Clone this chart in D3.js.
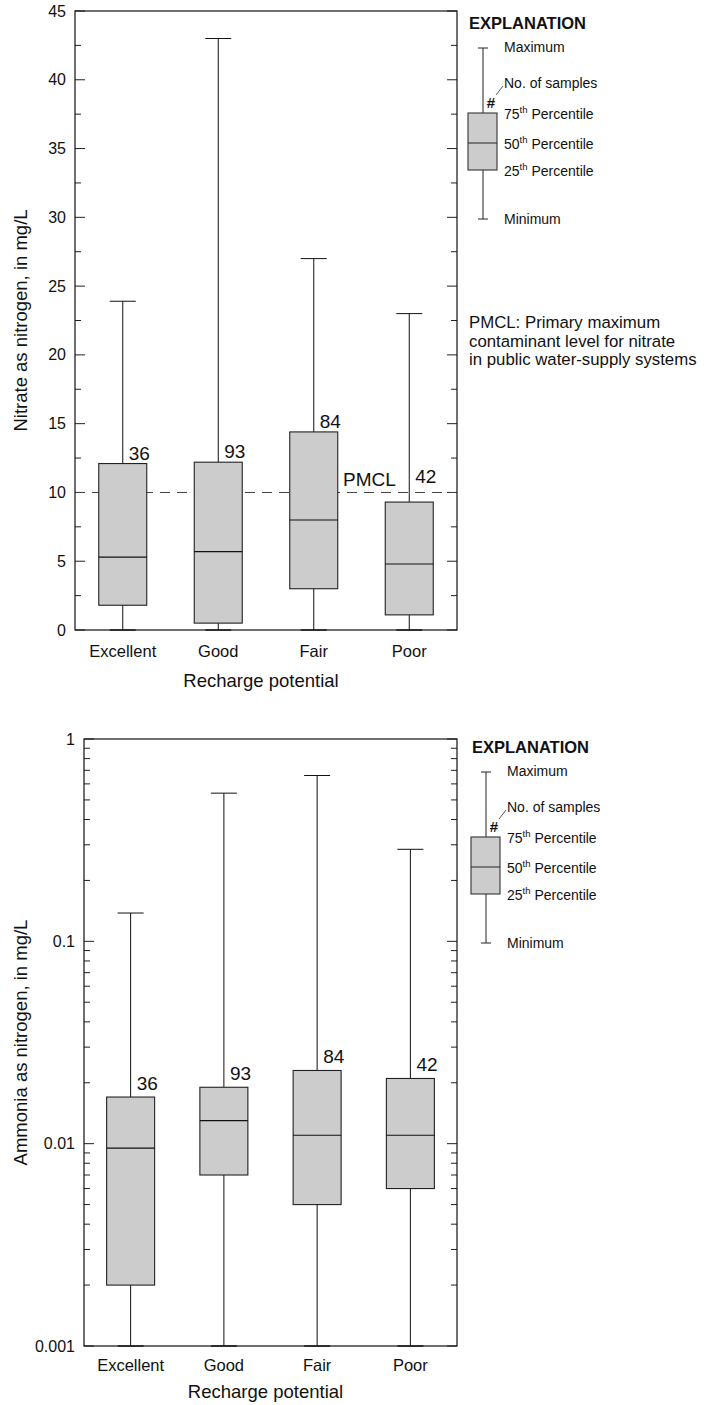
<!DOCTYPE html>
<html>
<head>
<meta charset="utf-8">
<script src="https://cdn.jsdelivr.net/npm/d3@7"></script>
<style>
  body { margin: 0; background: #fff; }
  svg text { font-family: Arial, "Liberation Sans", sans-serif; fill: #111; }
</style>
</head>
<body>
<svg id="chart" width="715" height="1405"></svg>
<script>
// ---- data ----
const categories = ["Excellent", "Good", "Fair", "Poor"];
const sampleCounts = [36, 93, 84, 42];

// Nitrate as nitrogen, mg/L
const nitrateMin    = [0, 0, 0, 0];
const nitrateQ1     = [1.8, 0.5, 3.0, 1.1];
const nitrateMedian = [5.3, 5.7, 8.0, 4.8];
const nitrateQ3     = [12.1, 12.2, 14.4, 9.3];
const nitrateMax    = [23.9, 43, 27, 23];
const nitrateMajorTicks = [0, 5, 10, 15, 20, 25, 30, 35, 40, 45];
const nitrateMinorTicks = [2.5, 7.5, 12.5, 17.5, 22.5, 27.5, 32.5, 37.5, 42.5];
const pmclValue = 10;

// Ammonia as nitrogen, mg/L
const ammoniaMin    = [0.001, 0.001, 0.001, 0.001];
const ammoniaQ1     = [0.002, 0.007, 0.005, 0.006];
const ammoniaMedian = [0.0095, 0.013, 0.011, 0.011];
const ammoniaQ3     = [0.017, 0.019, 0.023, 0.021];
const ammoniaMax    = [0.138, 0.54, 0.66, 0.285];
const ammoniaMajorTicks = [0.001, 0.01, 0.1, 1];
const ammoniaTickLabels = ["0.001", "0.01", "0.1", "1"];

const legendLabels = ["Maximum", "No. of samples", "75", "50", "25", "Minimum"];
const pmclNote = ["PMCL: Primary maximum", "contaminant level for nitrate", "in public water-supply systems"];

// ---- drawing ----
const svg = d3.select("#chart");
const BOX_FILL = "#cccccc";

function rows(mins, q1, med, q3, max) {
  return categories.map((c, i) => ({
    cat: c, n: sampleCounts[i], min: mins[i], q1: q1[i], med: med[i], q3: q3[i], max: max[i]
  }));
}

function drawPanel(cfg) {
  const g = svg.append("g");
  const x = d3.scaleBand().domain(categories).range([cfg.left, cfg.right]);
  const y = cfg.y;
  const top = y.range()[1], bottom = y.range()[0];

  // tick marks on both vertical edges, pointing inward
  const ticks = cfg.majors.map(v => ({ v, len: 10 })).concat(cfg.minors.map(v => ({ v, len: 6 })));
  g.selectAll("line.tl").data(ticks).join("line")
    .attr("x1", cfg.left).attr("x2", d => cfg.left + d.len)
    .attr("y1", d => y(d.v)).attr("y2", d => y(d.v))
    .attr("stroke", "#222").attr("stroke-width", 1);
  g.selectAll("line.tr").data(ticks).join("line")
    .attr("x1", cfg.right).attr("x2", d => cfg.right - d.len)
    .attr("y1", d => y(d.v)).attr("y2", d => y(d.v))
    .attr("stroke", "#222").attr("stroke-width", 1);

  // tick labels
  g.selectAll("text.yl").data(cfg.majors).join("text")
    .attr("x", cfg.left - 9).attr("y", d => y(d)).attr("dy", "0.35em")
    .attr("text-anchor", "end").attr("font-size", 16)
    .text((d, i) => cfg.tickLabels[i]);

  if (cfg.refLine != null) {
    g.append("line")
      .attr("x1", cfg.left).attr("x2", cfg.right)
      .attr("y1", y(cfg.refLine)).attr("y2", y(cfg.refLine))
      .attr("stroke", "#444").attr("stroke-width", 1.1).attr("stroke-dasharray", "10,7");
  }

  const data = cfg.data;
  const cx = d => x(d.cat) + x.bandwidth() / 2;
  const bw = 48, cap = 26;

  // whiskers
  g.selectAll("line.wl").data(data).join("line")
    .attr("x1", cx).attr("x2", cx).attr("y1", d => y(d.min)).attr("y2", d => y(d.q1))
    .attr("stroke", "#111");
  g.selectAll("line.wh").data(data).join("line")
    .attr("x1", cx).attr("x2", cx).attr("y1", d => y(d.q3)).attr("y2", d => y(d.max))
    .attr("stroke", "#111");
  g.selectAll("line.cmax").data(data).join("line")
    .attr("x1", d => cx(d) - cap / 2).attr("x2", d => cx(d) + cap / 2)
    .attr("y1", d => y(d.max)).attr("y2", d => y(d.max)).attr("stroke", "#111");
  g.selectAll("line.cmin").data(data).join("line")
    .attr("x1", d => cx(d) - cap / 2).attr("x2", d => cx(d) + cap / 2)
    .attr("y1", d => y(d.min)).attr("y2", d => y(d.min)).attr("stroke", "#333").attr("stroke-width", 1.6);

  // boxes
  g.selectAll("rect.box").data(data).join("rect")
    .attr("x", d => cx(d) - bw / 2).attr("width", bw)
    .attr("y", d => y(d.q3)).attr("height", d => y(d.q1) - y(d.q3))
    .attr("fill", BOX_FILL).attr("stroke", "#222").attr("stroke-width", 1.1);
  g.selectAll("line.med").data(data).join("line")
    .attr("x1", d => cx(d) - bw / 2).attr("x2", d => cx(d) + bw / 2)
    .attr("y1", d => y(d.med)).attr("y2", d => y(d.med))
    .attr("stroke", "#111").attr("stroke-width", 1.1);

  // sample counts; keep clear of the reference line
  g.selectAll("text.n").data(data).join("text")
    .attr("x", d => cx(d) + 6)
    .attr("y", d => {
      let base = y(d.q3) - cfg.countGap;
      if (cfg.refLine != null && y(d.q3) > y(cfg.refLine) - 4) base = y(cfg.refLine) - 9;
      return base;
    })
    .attr("font-size", 19).text(d => d.n);

  // frame
  g.append("rect").attr("x", cfg.left).attr("y", top)
    .attr("width", cfg.right - cfg.left).attr("height", bottom - top)
    .attr("fill", "none").attr("stroke", "#111").attr("stroke-width", 1.2);

  // category labels
  g.selectAll("text.cat").data(categories).join("text")
    .attr("x", d => x(d) + x.bandwidth() / 2).attr("y", bottom + cfg.catGap)
    .attr("text-anchor", "middle").attr("font-size", 16.5).text(d => d);

  g.append("text")
    .attr("x", (cfg.left + cfg.right) / 2 - 5).attr("y", bottom + cfg.titleGap)
    .attr("text-anchor", "middle").attr("font-size", 18.5).text("Recharge potential");

  g.append("text")
    .attr("transform", `translate(27,${(top + bottom) / 2}) rotate(-90)`)
    .attr("text-anchor", "middle").attr("font-size", 18.5).text(cfg.yTitle);

  return { x, y };
}

function drawLegend(ox, oy) {
  const g = svg.append("g").attr("transform", `translate(${ox},${oy})`);
  // oy is the centre line of the heading; ox the whisker position
  g.append("text").attr("x", -14).attr("y", 6).attr("font-size", 16.5)
    .attr("font-weight", "bold").text("EXPLANATION");

  const ly = { max: 25, q3: 90, med: 120, q1: 147, min: 196 };
  g.append("line").attr("x1", 0).attr("x2", 0).attr("y1", ly.max).attr("y2", ly.min).attr("stroke", "#222");
  g.append("line").attr("x1", -5).attr("x2", 5).attr("y1", ly.max).attr("y2", ly.max).attr("stroke", "#222");
  g.append("line").attr("x1", -5).attr("x2", 5).attr("y1", ly.min).attr("y2", ly.min).attr("stroke", "#222");
  g.append("rect").attr("x", -15).attr("width", 29).attr("y", ly.q3).attr("height", ly.q1 - ly.q3)
    .attr("fill", BOX_FILL).attr("stroke", "#333").attr("stroke-width", 1.1);
  g.append("line").attr("x1", -15).attr("x2", 14).attr("y1", ly.med).attr("y2", ly.med).attr("stroke", "#222");

  g.append("text").attr("x", 8).attr("y", 85).attr("text-anchor", "middle")
    .attr("font-size", 15).attr("font-weight", "bold").text("#");
  g.append("line").attr("x1", 13).attr("x2", 20).attr("y1", 72).attr("y2", 63)
    .attr("stroke", "#333").attr("stroke-width", 0.8);

  const rowsY = [24, 60, 91, 121, 148, 196];
  legendLabels.forEach((lab, i) => {
    const t = g.append("text").attr("x", 21).attr("y", rowsY[i] + 5).attr("font-size", 14);
    if (i >= 2 && i <= 4) {
      t.append("tspan").text(lab);
      t.append("tspan").attr("font-size", 9.5).attr("dy", -6).text("th");
      t.append("tspan").attr("dy", 6).text(" Percentile");
    } else {
      t.text(lab);
    }
  });
  return g;
}

// Nitrate panel
const yNitrate = d3.scaleLinear().domain([0, 45]).range([630, 11]);
drawPanel({
  left: 75, right: 457, y: yNitrate,
  majors: nitrateMajorTicks, minors: nitrateMinorTicks,
  tickLabels: nitrateMajorTicks.map(String),
  data: rows(nitrateMin, nitrateQ1, nitrateMedian, nitrateQ3, nitrateMax),
  refLine: pmclValue, countGap: 4, catGap: 27, titleGap: 57,
  yTitle: "Nitrate as nitrogen, in mg/L"
});
svg.append("text").attr("x", 343).attr("y", yNitrate(pmclValue) - 6)
  .attr("font-size", 19).text("PMCL");

drawLegend(483, 23);
svg.append("g").selectAll("text").data(pmclNote).join("text")
  .attr("x", 469).attr("y", (d, i) => 328 + i * 18.5)
  .attr("font-size", 16.8).text(d => d);

// Ammonia panel
const ammoniaMinors = [];
ammoniaMajorTicks.slice(0, -1).forEach(base => {
  for (let k = 2; k <= 9; k++) ammoniaMinors.push(base * k);
});
drawPanel({
  left: 84, right: 457,
  y: d3.scaleLog().domain([0.001, 1]).range([1346, 739]),
  majors: ammoniaMajorTicks, minors: ammoniaMinors,
  tickLabels: ammoniaTickLabels,
  data: rows(ammoniaMin, ammoniaQ1, ammoniaMedian, ammoniaQ3, ammoniaMax),
  refLine: null, countGap: 7, catGap: 25, titleGap: 52,
  yTitle: "Ammonia as nitrogen, in mg/L"
});
drawLegend(486, 747);
</script>
</body>
</html>
